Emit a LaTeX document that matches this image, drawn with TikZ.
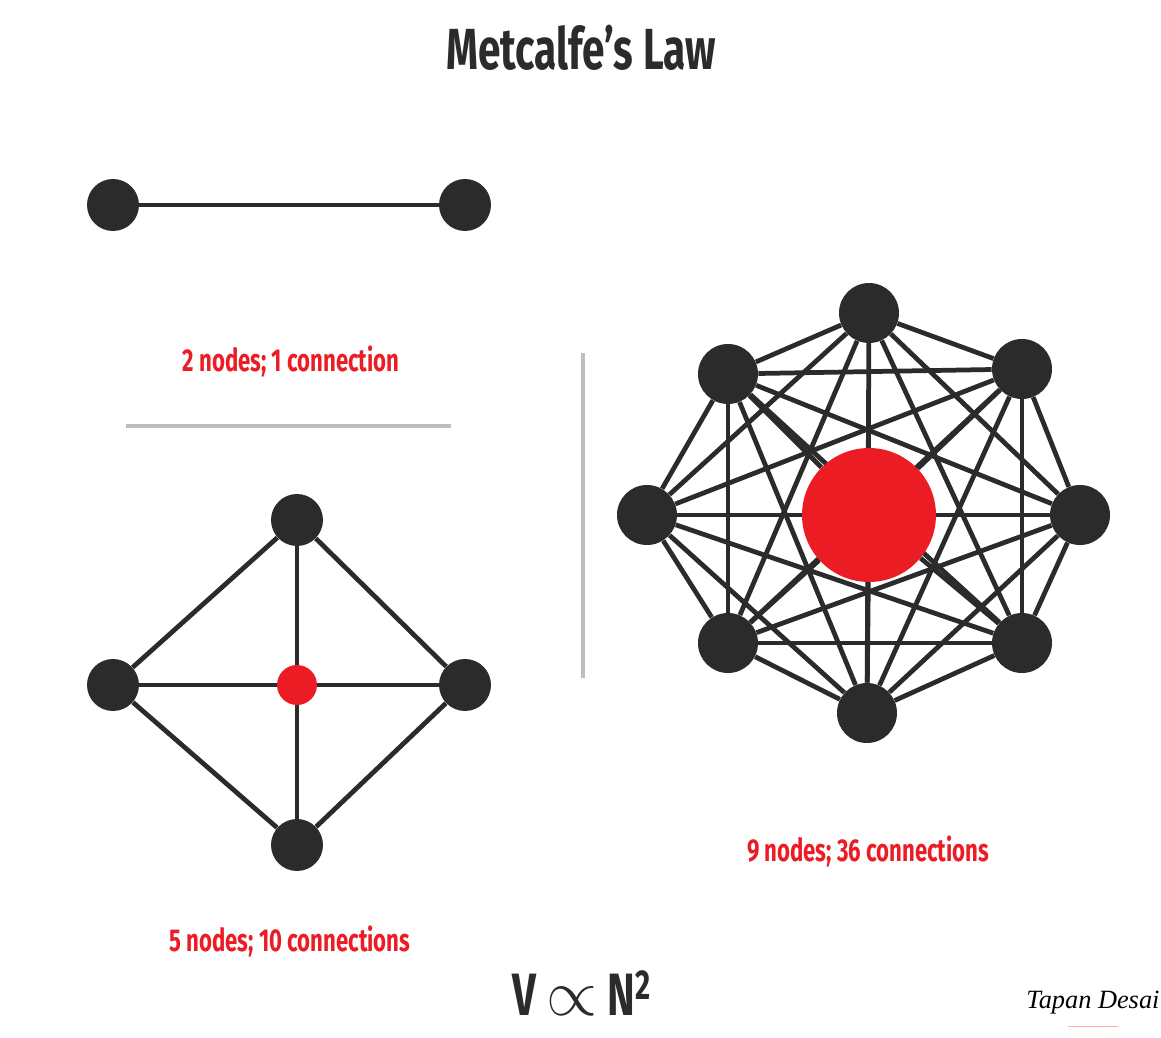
\documentclass[tikz,border=0pt]{standalone}
\usepackage{fontspec}
\newfontfamily\handfont[FakeStretch=0.7]{Fira Sans}
\newfontfamily\signfont{Liberation Serif}
\usetikzlibrary{backgrounds}
\definecolor{inkdark}{HTML}{2B2B2B}
\definecolor{inkred}{HTML}{EC1C24}
\definecolor{rulegray}{HTML}{BEBEBE}

\begin{document}
\begin{tikzpicture}[
  x=0.02cm,y=-0.02cm,
  vertex/.style={circle,fill=inkdark,inner sep=0pt,minimum size=1.2cm},
  smallvertex/.style={circle,fill=inkdark,inner sep=0pt,minimum size=1.04cm},
  hub/.style={circle,fill=inkred,inner sep=0pt,minimum size=2.68cm},
  smallhub/.style={circle,fill=inkred,inner sep=0pt,minimum size=0.8cm},
  link/.style={draw=inkdark,line width=2.7pt},
  divider/.style={draw=rulegray,line width=2.7pt},
  caption/.style={font=\handfont\bfseries\fontsize{18}{22}\selectfont,text=inkred}
]
\useasboundingbox (0,0) rectangle (1161,1038);
\begin{scope}[on background layer]
  \fill[white] (0,0) rectangle (1161,1038);
\end{scope}

\node[font=\handfont\bfseries\fontsize{33}{38}\selectfont,text=inkdark] (title) at (581,48) {Metcalfe’s Law};

% two nodes
\node[smallvertex] (a1) at (113,205) {};
\node[smallvertex] (a2) at (465,205) {};
\draw[link] (a1) -- (a2);
\node[caption] (capA) at (291,361) {2 nodes; 1 connection};

% dividers
\coordinate (hl) at (126,426);
\coordinate (hr) at (451,426);
\coordinate (vt) at (583,353);
\coordinate (vb) at (583,678);
\draw[divider] (hl) -- (hr);
\draw[divider] (vt) -- (vb);

% five nodes
\node[smallvertex] (bt) at (297,520) {};
\node[smallvertex] (bl) at (113,685) {};
\node[smallvertex] (br) at (465,685) {};
\node[smallvertex] (bb) at (297,845) {};
\node[smallhub] (bc) at (297,685) {};
\begin{scope}[on background layer]
  \draw[link] (bt) -- (bl) -- (bb) -- (br) -- (bt);
  \foreach \v in {bt,bl,br,bb} \draw[link] (bc) -- (\v);
\end{scope}
\node[caption] (capB) at (290,941) {5 nodes; 10 connections};

% nine nodes
\node[vertex] (o1) at (869,313) {};
\node[vertex] (o2) at (1022,369) {};
\node[vertex] (o3) at (1080,515) {};
\node[vertex] (o4) at (1022,643) {};
\node[vertex] (o5) at (867,713) {};
\node[vertex] (o6) at (728,643) {};
\node[vertex] (o7) at (647,515) {};
\node[vertex] (o8) at (728,374) {};
\node[hub] (oc) at (869,515) {};
\begin{scope}[on background layer]
  \foreach \i in {1,...,7} {
    \pgfmathtruncatemacro\next{\i+1}
    \foreach \j in {\next,...,8} \draw[link] (o\i) -- (o\j);
  }
  \foreach \i in {1,...,8} \draw[link] (oc) -- (o\i);
\end{scope}
\node[caption] (capC) at (868,851) {9 nodes; 36 connections};

% formula and signature
\node[font=\handfont\bfseries\fontsize{34}{40}\selectfont,text=inkdark] (law) at (582,993) {V\,\scalebox{1.5}{$\propto$}\,N\textsuperscript{2}};
\node[font=\signfont\itshape\fontsize{15}{18}\selectfont] (sign) at (1093,1003) {Tapan Desai};
\draw[inkred!35,line width=0.4pt] ([xshift=-14pt,yshift=-3pt]sign.south) -- ([xshift=14pt,yshift=-3pt]sign.south);
\end{tikzpicture}
\end{document}
